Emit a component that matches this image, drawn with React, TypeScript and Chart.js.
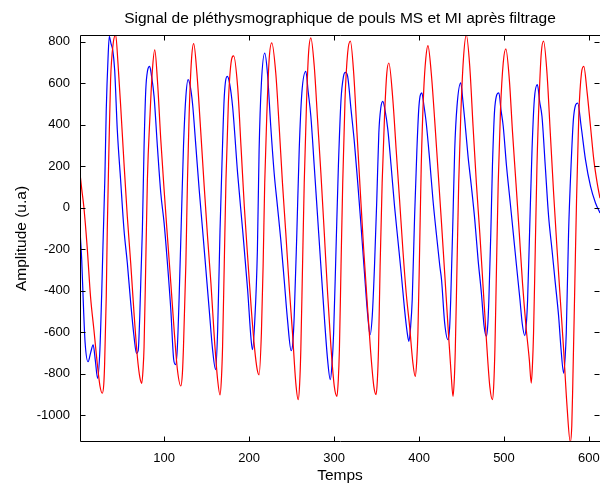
import React, { useEffect, useRef } from "react";
import { Chart, registerables } from "chart.js";

Chart.register(...registerables);

const chartTitle = "Signal de pléthysmographique de pouls MS et MI après filtrage";
const xTitle = "Temps";
const yTitle = "Amplitude (u.a)";
const xTicks = [100, 200, 300, 400, 500, 600];
const yTicks = [-1000, -800, -600, -400, -200, 0, 200, 400, 600, 800];

const blueX = [
  1, 3, 5, 7, 10.5, 13.5, 16.5, 19, 21.7, 24.4, 26.5, 28, 30.3, 31.9, 34, 35.5, 37.5, 39.5, 41.8, 44.9,
  48.8, 52.8, 56.7, 60.7, 64.6, 67.5, 69.5, 71.3, 72.8, 74.4, 76.4, 78.4, 80.5, 83, 85, 88.2, 92.1, 96.1,
  100, 103.9, 107.9, 111.2, 113.4, 115.5, 117.7, 120.5, 122.8, 125.6, 128.3, 130.5, 133.4, 137.4, 141.3,
  145.3, 149.2, 153.1, 157.1, 160.6, 163, 165.8, 168.1, 170.8, 174.4, 177, 180.6, 186.5, 192.4, 198.3,
  202.4, 204, 206.5, 209.8, 211.8, 214.5, 218.4, 221.6, 225.5, 229.5, 233.4, 237.3, 241.3, 245.2, 249.5,
  251.5, 253.1, 256.2, 259, 262.1, 266.8, 269.5, 272.7, 276.7, 280.6, 284.5, 288.5, 292.4, 295.6, 297.5,
  299.5, 302.3, 305.1, 308.2, 311, 313.3, 316, 320, 324, 327.9, 331.8, 335.8, 339.7, 342.4, 345, 347.6,
  350.3, 352.7, 355, 357.4, 360, 363.3, 367.2, 371.2, 375.1, 379, 383, 386, 388.1, 390, 392, 394.8,
  397.5, 399.9, 403.3, 405.5, 408.5, 412.5, 416.4, 420.3, 424.5, 426.5, 430.2, 434.1, 436, 437.3, 440,
  442, 444.7, 449.1, 451.5, 453.8, 457.7, 461.6, 465.6, 469.5, 473.4, 476.6, 479.3, 481, 482.2, 484.5,
  486.4, 489.3, 494, 496.5, 499.1, 503, 507, 510.9, 514.8, 518.8, 521.5, 524.5, 526.3, 527.8, 530.1, 533,
  535.7, 539.3, 542, 544.7, 548.6, 552.5, 556.5, 560.4, 564.3, 567.2, 570.2, 572, 573.3, 576, 578.9, 582,
  586.8, 590.8, 595.9, 601.8, 607.7, 613,
];
const blueY = [
  -110, -250, -470, -650, -743, -700, -662, -735, -823, -687, -420, -188, 149, 471, 720, 826, 790, 760, 663, 374,
  133, -108, -267, -460, -622, -703, -690, -526, -320, -108, 294, 567, 660, 681, 640, 535, 294, 69,
  -75, -268, -494, -730, -757, -680, -430, -27, 294, 535, 617, 590, 503, 294, 85,
  -108, -301, -494, -687, -781, -590, -108, 213, 535, 633, 600, 487, 165, -108, -397,
  -638, -685, -560, -203, 279, 601, 745, 649, 392, 167, 6, -155, -348, -540, -690,
  -650, -524, -122, 279, 553, 657, 560, 440, 199, -42, -283, -524, -733, -830, -760,
  -605, -203, 199, 520, 630, 652, 633, 472, 311, 118, -90, -315, -524, -613, -520, -283,
  38, 360, 480, 512, 470, 376, 199, 6, -155, -315, -492, -600, -645, -580, -444, -42,
  279, 488, 553, 500, 408, 231, 38, -122, -283, -348, -557, -637, -580, -444, -42,
  279, 488, 601, 520, 424, 247, 103, -58, -251, -412, -572, -621, -560, -444, -122,
  199, 488, 553, 470, 392, 199, 38, -122, -283, -444, -560, -617, -560, -444, -122, 279,
  520, 593, 510, 440, 199, -42, -203, -364, -524, -685, -798, -720, -605, -122, 199, 440,
  504, 392, 231, 103, 22, -26,
];

const redX = [
  1, 3, 5.5, 9.4, 13.4, 17.4, 21.3, 24.5, 27.2, 29, 30, 31.9, 33.1, 35.1, 37, 40.1, 43, 45.7, 48.9, 52.8,
  56.7, 60.7, 64.6, 68.5, 71.5, 73.7, 75.2, 76.4, 78.4, 80.3, 83.5, 86.2, 89, 92.1, 96.1, 100, 103.9,
  107.9, 111.8, 115.7, 119.7, 121.5, 122.8, 125.6, 127.5, 129.5, 132.2, 134.8, 138.6, 142.5, 147.2,
  151.1, 155.1, 159, 163, 165.8, 167.5, 168.8, 170.8, 172.8, 175.6, 178.7, 181.8, 186.5, 190.5, 194.4,
  198.3, 202.4, 206.5, 209.5, 211.8, 214.5, 216.5, 218.4, 220.8, 223.6, 226.7, 231.4, 235.4, 239.3,
  243.2, 247.2, 251.1, 255, 257.8, 259.5, 260.9, 262.9, 264.9, 267.7, 270, 272.7, 276.7, 280.6, 284.5,
  288.5, 292.4, 296.3, 300.3, 303.4, 305, 306.3, 308.2, 310.2, 312.9, 316, 319.2, 323.1, 327, 331,
  334.9, 338.8, 342.9, 346.8, 349.5, 351, 352.3, 354.2, 356.6, 359.4, 362.1, 364.5, 369.2, 373.1, 377.1,
  381, 384.9, 388.9, 392.8, 395.5, 397.3, 398.7, 400.7, 402.6, 405.4, 408, 410.5, 414.4, 418.4, 422.3,
  426.2, 430.2, 434.1, 438, 440, 441.5, 442.7, 444.7, 446.7, 449.1, 452.2, 455.7, 459.7, 463.6, 467.5,
  471.5, 475.4, 479.3, 483.3, 486.4, 488, 489.3, 491.2, 493.2, 495.9, 499.1, 502.2, 506.3, 510.1, 514.1,
  518, 521.8, 525.9, 529.8, 532.1, 533.5, 534.8, 536.8, 538.8, 541.6, 543.9, 546.6, 550.6, 554.5, 558.4,
  562.5, 566.3, 570.2, 574.2, 578, 579.8, 581, 583.4, 585.4, 588, 591.2, 593.9, 597.9, 601.8, 605.7,
  609.7, 613,
];
const redY = [
  165, 90, 4, -188, -430, -590, -751, -860, -895, -850, -751, -430, -108, 294, 615, 792, 832, 696, 487, 213,
  -44, -269, -510, -719, -820, -847, -780, -671, -269, 133, 455, 663, 760, 615, 326, 85, -140,
  -365, -590, -783, -860, -800, -671, -269, 133, 455, 712, 790, 647, 406, 101,
  -140, -365, -622, -831, -903, -820, -671, -269, 133, 503, 696, 731, 583, 294, 4,
  -237, -478, -680, -780, -806, -605, -283, 118, 440, 713, 794, 649, 392, 118,
  -122, -380, -605, -846, -926, -850, -685, -283, 118, 520, 745, 818, 681, 424, 167,
  -122, -412, -669, -862, -910, -830, -685, -283, 118, 520, 745, 802, 649, 360, 70,
  -203, -444, -685, -862, -902, -830, -685, -283, 118, 440, 649, 697, 520, 279, 38,
  -203, -412, -572, -749, -814, -740, -605, -203, 199, 553, 720, 781, 649, 424, 183,
  -58, -315, -572, -814, -910, -830, -685, -283, 118, 440, 713, 832, 681, 392, 118,
  -122, -380, -637, -862, -926, -850, -685, -283, 118, 472, 697, 765, 617, 360, 118,
  -122, -364, -572, -733, -846, -760, -605, -203, 199, 553, 745, 802, 649, 360, 70,
  -203, -444, -685, -958, -1130, -1050, -846, -364, 38, 440, 649, 681, 553, 392, 231,
  118, 45,
];

const X_MIN = 1;
const X_MAX = 613;
const Y_MIN = -1130;
const Y_MAX = 832;

const FONT = "'Liberation Sans', Arial, sans-serif";

const boxTicks = {
  id: "boxTicks",
  afterDraw(chart: any) {
    const { ctx, chartArea: a, scales } = chart;
    const x = scales.x;
    const y = scales.y;
    ctx.save();
    ctx.strokeStyle = "#000";
    ctx.lineWidth = 1;
    ctx.beginPath();
    const L = Math.round(a.left) + 0.5;
    const T = Math.round(a.top) + 0.5;
    const B = Math.round(a.bottom) - 0.5;
    const R = Math.round(a.right) + 0.5;
    ctx.moveTo(L, B);
    ctx.lineTo(L, T);
    ctx.lineTo(R, T);
    ctx.moveTo(L, B);
    ctx.lineTo(R, B);
    ctx.moveTo(R, T);
    ctx.lineTo(R, B);
    const len = 5;
    for (const v of xTicks) {
      const px = Math.round(x.getPixelForValue(v)) + 0.5;
      ctx.moveTo(px, B);
      ctx.lineTo(px, B - len);
      ctx.moveTo(px, T);
      ctx.lineTo(px, T + len);
    }
    for (const v of yTicks) {
      const py = Math.round(y.getPixelForValue(v)) + 0.5;
      ctx.moveTo(L, py);
      ctx.lineTo(L + len, py);
      ctx.moveTo(R - 1, py);
      ctx.lineTo(R - 1 - len, py);
    }
    ctx.stroke();
    ctx.restore();
  },
};

export default function App() {
  const ref = useRef<HTMLCanvasElement | null>(null);
  useEffect(() => {
    if (!ref.current) return;
    const red = redX.map((v, i) => ({ x: v, y: redY[i] }));
    const blue = blueX.map((v, i) => ({ x: v, y: blueY[i] }));
    const chart = new Chart(ref.current, {
      type: "line",
      data: {
        datasets: [
          {
            label: "MI",
            data: red,
            borderColor: "#ff0000",
            borderWidth: 1.2,
            pointRadius: 0,
            cubicInterpolationMode: "monotone",
            fill: false,
          },
          {
            label: "MS",
            data: blue,
            borderColor: "#0000ff",
            borderWidth: 1.2,
            pointRadius: 0,
            cubicInterpolationMode: "monotone",
            fill: false,
          },
        ],
      },
      options: {
        animation: false,
        responsive: false,
        devicePixelRatio: 1,
        layout: { padding: { left: 0, right: 0, top: 0, bottom: 0 } },
        plugins: {
          legend: { display: false },
          tooltip: { enabled: false },
          title: {
            display: true,
            fullSize: false,
            text: chartTitle,
            color: "#000",
            font: { family: FONT, size: 15.5, weight: "normal", lineHeight: 1.2 },
            padding: { top: 9, bottom: 7.4 },
          },
        },
        scales: {
          x: {
            type: "linear",
            min: X_MIN,
            max: X_MAX,
            afterBuildTicks: (s: any) => {
              s.ticks = xTicks.map((v) => ({ value: v }));
            },
            afterFit: (s: any) => {
              s.height = 43;
              s.paddingLeft = 0;
              s.paddingRight = 0;
            },
            grid: { display: false, drawTicks: false },
            border: { display: false },
            ticks: {
              color: "#000",
              font: { family: FONT, size: 13 },
              padding: 9,
              maxRotation: 0,
              autoSkip: false,
              callback: (v: any) => String(v),
            },
            title: {
              display: true,
              text: xTitle,
              color: "#000",
              font: { family: FONT, size: 15.5, lineHeight: 1.2 },
              padding: { top: 0, bottom: 0 },
            },
          },
          y: {
            type: "linear",
            min: Y_MIN,
            max: Y_MAX,
            afterBuildTicks: (s: any) => {
              s.ticks = yTicks.map((v) => ({ value: v }));
            },
            afterFit: (s: any) => {
              s.width = 80;
              s.paddingTop = 0;
              s.paddingBottom = 0;
            },
            grid: { display: false, drawTicks: false },
            border: { display: false },
            ticks: {
              color: "#000",
              font: { family: FONT, size: 13 },
              padding: 10,
              autoSkip: false,
              callback: (v: any) => String(v),
            },
            title: {
              display: true,
              text: yTitle,
              color: "#000",
              font: { family: FONT, size: 15.5, lineHeight: 1.2 },
              padding: { top: 12.2, bottom: 0 },
            },
          },
        },
      },
      plugins: [boxTicks],
    });
    return () => chart.destroy();
  }, []);

  return (
    <div style={{ position: "absolute", left: 0, top: 0, width: 600, height: 485, background: "#fff" }}>
      <canvas ref={ref} width={600} height={485} style={{ display: "block" }} />
    </div>
  );
}
